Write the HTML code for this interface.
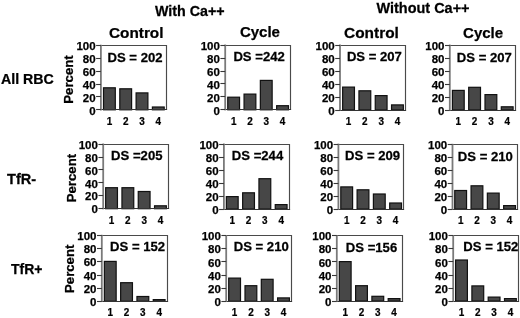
<!DOCTYPE html><html><head><meta charset="utf-8"><style>html,body{margin:0;padding:0;background:#fff;overflow:hidden}svg{display:block;filter:grayscale(1)}text{font-family:"Liberation Sans",sans-serif;font-weight:bold;fill:#000;stroke:#000;stroke-width:0.25px}</style></head><body>
<svg width="520" height="318" viewBox="0 0 520 318">
<text transform="translate(155,16.3) scale(1.02,1)" font-size="14">With Ca++</text>
<text transform="translate(376.5,12.9) scale(1.034,1)" font-size="14">Without Ca++</text>
<text transform="translate(109,38.0) scale(1.023,1)" font-size="15">Control</text>
<text x="239.9" y="37.2" font-size="15">Cycle</text>
<text transform="translate(344,38.3) scale(1.03,1)" font-size="15">Control</text>
<text x="463.1" y="37.6" font-size="15">Cycle</text>
<text transform="translate(1,83.5) scale(1.015,1)" font-size="14">All RBC</text>
<text transform="translate(7,184.1) scale(1.04,1)" font-size="14">TfR-</text>
<text x="11" y="273.7" font-size="14">TfR+</text>
<rect x="103.5" y="87.8" width="11.8" height="22" fill="#474747" stroke="#111" stroke-width="1.2"/>
<rect x="119.8" y="88.8" width="11.8" height="21" fill="#474747" stroke="#111" stroke-width="1.2"/>
<rect x="136.1" y="92.9" width="11.8" height="16.9" fill="#474747" stroke="#111" stroke-width="1.2"/>
<rect x="152.4" y="107" width="11.8" height="2.8" fill="#474747" stroke="#111" stroke-width="1.2"/>
<path d="M100.9 45.5H166.5V109.5" fill="none" stroke="#4a4a4a" stroke-width="1.15"/>
<path d="M100.9 109.5H167.1" fill="none" stroke="#333" stroke-width="1.15"/>
<path d="M100.9 44.7V110.4" stroke="#7a7a7a" stroke-width="1.8"/>
<path d="M96.1 109.5H100.9" stroke="#383838" stroke-width="1.1"/>
<text x="95.6" y="114.5" font-size="11.5" text-anchor="end">0</text>
<path d="M96.1 96.5H100.9" stroke="#383838" stroke-width="1.1"/>
<text x="95.6" y="101.58" font-size="11.5" text-anchor="end">20</text>
<path d="M96.1 84.5H100.9" stroke="#383838" stroke-width="1.1"/>
<text x="95.6" y="88.66" font-size="11.5" text-anchor="end">40</text>
<path d="M96.1 71.5H100.9" stroke="#383838" stroke-width="1.1"/>
<text x="95.6" y="75.74" font-size="11.5" text-anchor="end">60</text>
<path d="M96.1 58.5H100.9" stroke="#383838" stroke-width="1.1"/>
<text x="95.6" y="62.82" font-size="11.5" text-anchor="end">80</text>
<path d="M96.1 45.5H100.9" stroke="#383838" stroke-width="1.1"/>
<text x="95.6" y="49.9" font-size="11.5" text-anchor="end">100</text>
<text transform="translate(109.4,124.8) scale(0.88,1)" font-size="11.3" text-anchor="middle">1</text>
<text transform="translate(125.7,124.8) scale(0.88,1)" font-size="11.3" text-anchor="middle">2</text>
<text transform="translate(142,124.8) scale(0.88,1)" font-size="11.3" text-anchor="middle">3</text>
<text transform="translate(158.3,124.8) scale(0.88,1)" font-size="11.3" text-anchor="middle">4</text>
<text transform="translate(107.5,61.7) scale(1.05,1)" font-size="12.5">DS = 202</text>
<text x="0" y="0" font-size="13.2" text-anchor="middle" transform="translate(73.2,79.5) rotate(-90)">Percent</text>
<rect x="227.75" y="97.2" width="11.8" height="12.6" fill="#474747" stroke="#111" stroke-width="1.2"/>
<rect x="244.05" y="94.1" width="11.8" height="15.7" fill="#474747" stroke="#111" stroke-width="1.2"/>
<rect x="260.35" y="80.4" width="11.8" height="29.4" fill="#474747" stroke="#111" stroke-width="1.2"/>
<rect x="276.65" y="105.7" width="11.8" height="4.1" fill="#474747" stroke="#111" stroke-width="1.2"/>
<path d="M225.2 45.5H290.5V109.5" fill="none" stroke="#4a4a4a" stroke-width="1.15"/>
<path d="M225.2 109.5H291.1" fill="none" stroke="#333" stroke-width="1.15"/>
<path d="M225.2 44.5V110.4" stroke="#7a7a7a" stroke-width="1.8"/>
<path d="M220.4 109.5H225.2" stroke="#383838" stroke-width="1.1"/>
<text x="219.9" y="114.5" font-size="11.5" text-anchor="end">0</text>
<path d="M220.4 96.5H225.2" stroke="#383838" stroke-width="1.1"/>
<text x="219.9" y="101.54" font-size="11.5" text-anchor="end">20</text>
<path d="M220.4 83.5H225.2" stroke="#383838" stroke-width="1.1"/>
<text x="219.9" y="88.58" font-size="11.5" text-anchor="end">40</text>
<path d="M220.4 71.5H225.2" stroke="#383838" stroke-width="1.1"/>
<text x="219.9" y="75.62" font-size="11.5" text-anchor="end">60</text>
<path d="M220.4 58.5H225.2" stroke="#383838" stroke-width="1.1"/>
<text x="219.9" y="62.66" font-size="11.5" text-anchor="end">80</text>
<path d="M220.4 45.5H225.2" stroke="#383838" stroke-width="1.1"/>
<text x="219.9" y="49.7" font-size="11.5" text-anchor="end">100</text>
<text transform="translate(233.65,124.8) scale(0.88,1)" font-size="11.3" text-anchor="middle">1</text>
<text transform="translate(249.95,124.8) scale(0.88,1)" font-size="11.3" text-anchor="middle">2</text>
<text transform="translate(266.25,124.8) scale(0.88,1)" font-size="11.3" text-anchor="middle">3</text>
<text transform="translate(282.55,124.8) scale(0.88,1)" font-size="11.3" text-anchor="middle">4</text>
<text transform="translate(233.4,60.7) scale(1.05,1)" font-size="12.5">DS =242</text>
<rect x="342.65" y="87.1" width="11.8" height="22.9" fill="#474747" stroke="#111" stroke-width="1.2"/>
<rect x="358.95" y="90.8" width="11.8" height="19.2" fill="#474747" stroke="#111" stroke-width="1.2"/>
<rect x="375.25" y="95.6" width="11.8" height="14.4" fill="#474747" stroke="#111" stroke-width="1.2"/>
<rect x="391.55" y="104.9" width="11.8" height="5.1" fill="#474747" stroke="#111" stroke-width="1.2"/>
<path d="M340 45.5H405.5V110.5" fill="none" stroke="#4a4a4a" stroke-width="1.15"/>
<path d="M340 110.5H406.1" fill="none" stroke="#333" stroke-width="1.15"/>
<path d="M340 44.5V110.6" stroke="#7a7a7a" stroke-width="1.8"/>
<path d="M335.2 110.5H340" stroke="#383838" stroke-width="1.1"/>
<text x="334.7" y="114.7" font-size="11.5" text-anchor="end">0</text>
<path d="M335.2 97.5H340" stroke="#383838" stroke-width="1.1"/>
<text x="334.7" y="101.7" font-size="11.5" text-anchor="end">20</text>
<path d="M335.2 84.5H340" stroke="#383838" stroke-width="1.1"/>
<text x="334.7" y="88.7" font-size="11.5" text-anchor="end">40</text>
<path d="M335.2 71.5H340" stroke="#383838" stroke-width="1.1"/>
<text x="334.7" y="75.7" font-size="11.5" text-anchor="end">60</text>
<path d="M335.2 58.5H340" stroke="#383838" stroke-width="1.1"/>
<text x="334.7" y="62.7" font-size="11.5" text-anchor="end">80</text>
<path d="M335.2 45.5H340" stroke="#383838" stroke-width="1.1"/>
<text x="334.7" y="49.7" font-size="11.5" text-anchor="end">100</text>
<text transform="translate(348.55,125) scale(0.88,1)" font-size="11.3" text-anchor="middle">1</text>
<text transform="translate(364.85,125) scale(0.88,1)" font-size="11.3" text-anchor="middle">2</text>
<text transform="translate(381.15,125) scale(0.88,1)" font-size="11.3" text-anchor="middle">3</text>
<text transform="translate(397.45,125) scale(0.88,1)" font-size="11.3" text-anchor="middle">4</text>
<text transform="translate(346.9,60.7) scale(1.05,1)" font-size="12.5">DS = 207</text>
<rect x="452.4" y="90.4" width="11.8" height="19.6" fill="#474747" stroke="#111" stroke-width="1.2"/>
<rect x="468.7" y="87.3" width="11.8" height="22.7" fill="#474747" stroke="#111" stroke-width="1.2"/>
<rect x="485" y="94.6" width="11.8" height="15.4" fill="#474747" stroke="#111" stroke-width="1.2"/>
<rect x="501.3" y="106.8" width="11.8" height="3.2" fill="#474747" stroke="#111" stroke-width="1.2"/>
<path d="M449.8 45.5H515.5V110.5" fill="none" stroke="#4a4a4a" stroke-width="1.15"/>
<path d="M449.8 110.5H516.1" fill="none" stroke="#333" stroke-width="1.15"/>
<path d="M449.8 44.6V110.6" stroke="#7a7a7a" stroke-width="1.8"/>
<path d="M445 110.5H449.8" stroke="#383838" stroke-width="1.1"/>
<text x="444.5" y="114.7" font-size="11.5" text-anchor="end">0</text>
<path d="M445 97.5H449.8" stroke="#383838" stroke-width="1.1"/>
<text x="444.5" y="101.72" font-size="11.5" text-anchor="end">20</text>
<path d="M445 84.5H449.8" stroke="#383838" stroke-width="1.1"/>
<text x="444.5" y="88.74" font-size="11.5" text-anchor="end">40</text>
<path d="M445 71.5H449.8" stroke="#383838" stroke-width="1.1"/>
<text x="444.5" y="75.76" font-size="11.5" text-anchor="end">60</text>
<path d="M445 58.5H449.8" stroke="#383838" stroke-width="1.1"/>
<text x="444.5" y="62.78" font-size="11.5" text-anchor="end">80</text>
<path d="M445 45.5H449.8" stroke="#383838" stroke-width="1.1"/>
<text x="444.5" y="49.8" font-size="11.5" text-anchor="end">100</text>
<text transform="translate(458.3,125) scale(0.88,1)" font-size="11.3" text-anchor="middle">1</text>
<text transform="translate(474.6,125) scale(0.88,1)" font-size="11.3" text-anchor="middle">2</text>
<text transform="translate(490.9,125) scale(0.88,1)" font-size="11.3" text-anchor="middle">3</text>
<text transform="translate(507.2,125) scale(0.88,1)" font-size="11.3" text-anchor="middle">4</text>
<text transform="translate(456.8,61.9) scale(1.05,1)" font-size="12.5">DS = 207</text>
<rect x="105.65" y="187.7" width="11.8" height="21" fill="#474747" stroke="#111" stroke-width="1.2"/>
<rect x="121.95" y="187.7" width="11.8" height="21" fill="#474747" stroke="#111" stroke-width="1.2"/>
<rect x="138.25" y="191.5" width="11.8" height="17.2" fill="#474747" stroke="#111" stroke-width="1.2"/>
<rect x="154.55" y="205.8" width="11.8" height="2.9" fill="#474747" stroke="#111" stroke-width="1.2"/>
<path d="M103.2 144.5H168.5V208.5" fill="none" stroke="#4a4a4a" stroke-width="1.15"/>
<path d="M103.2 208.5H169.1" fill="none" stroke="#333" stroke-width="1.15"/>
<path d="M103.2 143.5V209.3" stroke="#7a7a7a" stroke-width="1.8"/>
<path d="M98.4 208.5H103.2" stroke="#383838" stroke-width="1.1"/>
<text x="97.9" y="213.4" font-size="11.5" text-anchor="end">0</text>
<path d="M98.4 195.5H103.2" stroke="#383838" stroke-width="1.1"/>
<text x="97.9" y="200.46" font-size="11.5" text-anchor="end">20</text>
<path d="M98.4 182.5H103.2" stroke="#383838" stroke-width="1.1"/>
<text x="97.9" y="187.52" font-size="11.5" text-anchor="end">40</text>
<path d="M98.4 169.5H103.2" stroke="#383838" stroke-width="1.1"/>
<text x="97.9" y="174.58" font-size="11.5" text-anchor="end">60</text>
<path d="M98.4 157.5H103.2" stroke="#383838" stroke-width="1.1"/>
<text x="97.9" y="161.64" font-size="11.5" text-anchor="end">80</text>
<path d="M98.4 144.5H103.2" stroke="#383838" stroke-width="1.1"/>
<text x="97.9" y="148.7" font-size="11.5" text-anchor="end">100</text>
<text transform="translate(111.55,223.7) scale(0.88,1)" font-size="11.3" text-anchor="middle">1</text>
<text transform="translate(127.85,223.7) scale(0.88,1)" font-size="11.3" text-anchor="middle">2</text>
<text transform="translate(144.15,223.7) scale(0.88,1)" font-size="11.3" text-anchor="middle">3</text>
<text transform="translate(160.45,223.7) scale(0.88,1)" font-size="11.3" text-anchor="middle">4</text>
<text transform="translate(111.1,159.9) scale(1.05,1)" font-size="12.5">DS =205</text>
<text x="0" y="0" font-size="13.2" text-anchor="middle" transform="translate(75.8,178.1) rotate(-90)">Percent</text>
<rect x="226.35" y="196.6" width="11.8" height="12.5" fill="#474747" stroke="#111" stroke-width="1.2"/>
<rect x="242.65" y="192.8" width="11.8" height="16.3" fill="#474747" stroke="#111" stroke-width="1.2"/>
<rect x="258.95" y="178.7" width="11.8" height="30.4" fill="#474747" stroke="#111" stroke-width="1.2"/>
<rect x="275.25" y="204.6" width="11.8" height="4.5" fill="#474747" stroke="#111" stroke-width="1.2"/>
<path d="M223.9 144.5H289.5V209.5" fill="none" stroke="#4a4a4a" stroke-width="1.15"/>
<path d="M223.9 209.5H290.1" fill="none" stroke="#333" stroke-width="1.15"/>
<path d="M223.9 143.6V209.7" stroke="#7a7a7a" stroke-width="1.8"/>
<path d="M219.1 209.5H223.9" stroke="#383838" stroke-width="1.1"/>
<text x="218.6" y="213.8" font-size="11.5" text-anchor="end">0</text>
<path d="M219.1 196.5H223.9" stroke="#383838" stroke-width="1.1"/>
<text x="218.6" y="200.8" font-size="11.5" text-anchor="end">20</text>
<path d="M219.1 183.5H223.9" stroke="#383838" stroke-width="1.1"/>
<text x="218.6" y="187.8" font-size="11.5" text-anchor="end">40</text>
<path d="M219.1 170.5H223.9" stroke="#383838" stroke-width="1.1"/>
<text x="218.6" y="174.8" font-size="11.5" text-anchor="end">60</text>
<path d="M219.1 157.5H223.9" stroke="#383838" stroke-width="1.1"/>
<text x="218.6" y="161.8" font-size="11.5" text-anchor="end">80</text>
<path d="M219.1 144.5H223.9" stroke="#383838" stroke-width="1.1"/>
<text x="218.6" y="148.8" font-size="11.5" text-anchor="end">100</text>
<text transform="translate(232.25,224.1) scale(0.88,1)" font-size="11.3" text-anchor="middle">1</text>
<text transform="translate(248.55,224.1) scale(0.88,1)" font-size="11.3" text-anchor="middle">2</text>
<text transform="translate(264.85,224.1) scale(0.88,1)" font-size="11.3" text-anchor="middle">3</text>
<text transform="translate(281.15,224.1) scale(0.88,1)" font-size="11.3" text-anchor="middle">4</text>
<text transform="translate(231.8,159.7) scale(1.05,1)" font-size="12.5">DS =244</text>
<rect x="340.8" y="186.9" width="11.8" height="22.2" fill="#474747" stroke="#111" stroke-width="1.2"/>
<rect x="357.1" y="189.8" width="11.8" height="19.3" fill="#474747" stroke="#111" stroke-width="1.2"/>
<rect x="373.4" y="194" width="11.8" height="15.1" fill="#474747" stroke="#111" stroke-width="1.2"/>
<rect x="389.7" y="203" width="11.8" height="6.1" fill="#474747" stroke="#111" stroke-width="1.2"/>
<path d="M338.4 144.5H403.5V209.5" fill="none" stroke="#4a4a4a" stroke-width="1.15"/>
<path d="M338.4 209.5H404.1" fill="none" stroke="#333" stroke-width="1.15"/>
<path d="M338.4 143.6V209.7" stroke="#7a7a7a" stroke-width="1.8"/>
<path d="M333.6 209.5H338.4" stroke="#383838" stroke-width="1.1"/>
<text x="333.1" y="213.8" font-size="11.5" text-anchor="end">0</text>
<path d="M333.6 196.5H338.4" stroke="#383838" stroke-width="1.1"/>
<text x="333.1" y="200.8" font-size="11.5" text-anchor="end">20</text>
<path d="M333.6 183.5H338.4" stroke="#383838" stroke-width="1.1"/>
<text x="333.1" y="187.8" font-size="11.5" text-anchor="end">40</text>
<path d="M333.6 170.5H338.4" stroke="#383838" stroke-width="1.1"/>
<text x="333.1" y="174.8" font-size="11.5" text-anchor="end">60</text>
<path d="M333.6 157.5H338.4" stroke="#383838" stroke-width="1.1"/>
<text x="333.1" y="161.8" font-size="11.5" text-anchor="end">80</text>
<path d="M333.6 144.5H338.4" stroke="#383838" stroke-width="1.1"/>
<text x="333.1" y="148.8" font-size="11.5" text-anchor="end">100</text>
<text transform="translate(346.7,224.1) scale(0.88,1)" font-size="11.3" text-anchor="middle">1</text>
<text transform="translate(363,224.1) scale(0.88,1)" font-size="11.3" text-anchor="middle">2</text>
<text transform="translate(379.3,224.1) scale(0.88,1)" font-size="11.3" text-anchor="middle">3</text>
<text transform="translate(395.6,224.1) scale(0.88,1)" font-size="11.3" text-anchor="middle">4</text>
<text transform="translate(345.1,159.9) scale(1.05,1)" font-size="12.5">DS = 209</text>
<rect x="454.75" y="190.5" width="11.8" height="18.6" fill="#474747" stroke="#111" stroke-width="1.2"/>
<rect x="471.05" y="185.8" width="11.8" height="23.3" fill="#474747" stroke="#111" stroke-width="1.2"/>
<rect x="487.35" y="193.1" width="11.8" height="16" fill="#474747" stroke="#111" stroke-width="1.2"/>
<rect x="503.65" y="205.6" width="11.8" height="3.5" fill="#474747" stroke="#111" stroke-width="1.2"/>
<path d="M452.5 144.5H517.5V209.5" fill="none" stroke="#4a4a4a" stroke-width="1.15"/>
<path d="M452.5 209.5H518.1" fill="none" stroke="#333" stroke-width="1.15"/>
<path d="M452.5 143.8V209.7" stroke="#7a7a7a" stroke-width="1.8"/>
<path d="M447.7 209.5H452.5" stroke="#383838" stroke-width="1.1"/>
<text x="447.2" y="213.8" font-size="11.5" text-anchor="end">0</text>
<path d="M447.7 196.5H452.5" stroke="#383838" stroke-width="1.1"/>
<text x="447.2" y="200.84" font-size="11.5" text-anchor="end">20</text>
<path d="M447.7 183.5H452.5" stroke="#383838" stroke-width="1.1"/>
<text x="447.2" y="187.88" font-size="11.5" text-anchor="end">40</text>
<path d="M447.7 170.5H452.5" stroke="#383838" stroke-width="1.1"/>
<text x="447.2" y="174.92" font-size="11.5" text-anchor="end">60</text>
<path d="M447.7 157.5H452.5" stroke="#383838" stroke-width="1.1"/>
<text x="447.2" y="161.96" font-size="11.5" text-anchor="end">80</text>
<path d="M447.7 144.5H452.5" stroke="#383838" stroke-width="1.1"/>
<text x="447.2" y="149" font-size="11.5" text-anchor="end">100</text>
<text transform="translate(460.65,224.1) scale(0.88,1)" font-size="11.3" text-anchor="middle">1</text>
<text transform="translate(476.95,224.1) scale(0.88,1)" font-size="11.3" text-anchor="middle">2</text>
<text transform="translate(493.25,224.1) scale(0.88,1)" font-size="11.3" text-anchor="middle">3</text>
<text transform="translate(509.55,224.1) scale(0.88,1)" font-size="11.3" text-anchor="middle">4</text>
<text transform="translate(457.8,161) scale(1.05,1)" font-size="12.5">DS = 210</text>
<rect x="104.35" y="261.4" width="11.8" height="39.9" fill="#474747" stroke="#111" stroke-width="1.2"/>
<rect x="120.65" y="282.7" width="11.8" height="18.6" fill="#474747" stroke="#111" stroke-width="1.2"/>
<rect x="136.95" y="296.5" width="11.8" height="4.8" fill="#474747" stroke="#111" stroke-width="1.2"/>
<rect x="153.25" y="299.6" width="11.8" height="1.7" fill="#474747" stroke="#111" stroke-width="1.2"/>
<path d="M101.8 235.5H167.5V301.5" fill="none" stroke="#4a4a4a" stroke-width="1.15"/>
<path d="M101.8 301.5H168.1" fill="none" stroke="#333" stroke-width="1.15"/>
<path d="M101.8 234.8V301.9" stroke="#7a7a7a" stroke-width="1.8"/>
<path d="M97 301.5H101.8" stroke="#383838" stroke-width="1.1"/>
<text x="96.5" y="306" font-size="11.5" text-anchor="end">0</text>
<path d="M97 288.5H101.8" stroke="#383838" stroke-width="1.1"/>
<text x="96.5" y="292.8" font-size="11.5" text-anchor="end">20</text>
<path d="M97 275.5H101.8" stroke="#383838" stroke-width="1.1"/>
<text x="96.5" y="279.6" font-size="11.5" text-anchor="end">40</text>
<path d="M97 261.5H101.8" stroke="#383838" stroke-width="1.1"/>
<text x="96.5" y="266.4" font-size="11.5" text-anchor="end">60</text>
<path d="M97 248.5H101.8" stroke="#383838" stroke-width="1.1"/>
<text x="96.5" y="253.2" font-size="11.5" text-anchor="end">80</text>
<path d="M97 235.5H101.8" stroke="#383838" stroke-width="1.1"/>
<text x="96.5" y="240" font-size="11.5" text-anchor="end">100</text>
<text transform="translate(110.25,316.3) scale(0.88,1)" font-size="11.3" text-anchor="middle">1</text>
<text transform="translate(126.55,316.3) scale(0.88,1)" font-size="11.3" text-anchor="middle">2</text>
<text transform="translate(142.85,316.3) scale(0.88,1)" font-size="11.3" text-anchor="middle">3</text>
<text transform="translate(159.15,316.3) scale(0.88,1)" font-size="11.3" text-anchor="middle">4</text>
<text transform="translate(110.1,250.8) scale(1.05,1)" font-size="12.5">DS = 152</text>
<text x="0" y="0" font-size="13.2" text-anchor="middle" transform="translate(74,268.8) rotate(-90)">Percent</text>
<rect x="228.7" y="278.1" width="11.8" height="23.2" fill="#474747" stroke="#111" stroke-width="1.2"/>
<rect x="245" y="285.7" width="11.8" height="15.6" fill="#474747" stroke="#111" stroke-width="1.2"/>
<rect x="261.3" y="279.3" width="11.8" height="22" fill="#474747" stroke="#111" stroke-width="1.2"/>
<rect x="277.6" y="297.9" width="11.8" height="3.4" fill="#474747" stroke="#111" stroke-width="1.2"/>
<path d="M226.2 235.5H291.5V301.5" fill="none" stroke="#4a4a4a" stroke-width="1.15"/>
<path d="M226.2 301.5H292.1" fill="none" stroke="#333" stroke-width="1.15"/>
<path d="M226.2 235V301.9" stroke="#7a7a7a" stroke-width="1.8"/>
<path d="M221.4 301.5H226.2" stroke="#383838" stroke-width="1.1"/>
<text x="220.9" y="306" font-size="11.5" text-anchor="end">0</text>
<path d="M221.4 288.5H226.2" stroke="#383838" stroke-width="1.1"/>
<text x="220.9" y="292.84" font-size="11.5" text-anchor="end">20</text>
<path d="M221.4 275.5H226.2" stroke="#383838" stroke-width="1.1"/>
<text x="220.9" y="279.68" font-size="11.5" text-anchor="end">40</text>
<path d="M221.4 261.5H226.2" stroke="#383838" stroke-width="1.1"/>
<text x="220.9" y="266.52" font-size="11.5" text-anchor="end">60</text>
<path d="M221.4 248.5H226.2" stroke="#383838" stroke-width="1.1"/>
<text x="220.9" y="253.36" font-size="11.5" text-anchor="end">80</text>
<path d="M221.4 235.5H226.2" stroke="#383838" stroke-width="1.1"/>
<text x="220.9" y="240.2" font-size="11.5" text-anchor="end">100</text>
<text transform="translate(234.6,316.3) scale(0.88,1)" font-size="11.3" text-anchor="middle">1</text>
<text transform="translate(250.9,316.3) scale(0.88,1)" font-size="11.3" text-anchor="middle">2</text>
<text transform="translate(267.2,316.3) scale(0.88,1)" font-size="11.3" text-anchor="middle">3</text>
<text transform="translate(283.5,316.3) scale(0.88,1)" font-size="11.3" text-anchor="middle">4</text>
<text transform="translate(233.7,250.9) scale(1.05,1)" font-size="12.5">DS = 210</text>
<rect x="339.3" y="261.6" width="11.8" height="39.5" fill="#474747" stroke="#111" stroke-width="1.2"/>
<rect x="355.6" y="285.7" width="11.8" height="15.4" fill="#474747" stroke="#111" stroke-width="1.2"/>
<rect x="371.9" y="296.3" width="11.8" height="4.8" fill="#474747" stroke="#111" stroke-width="1.2"/>
<rect x="388.2" y="298.6" width="11.8" height="2.5" fill="#474747" stroke="#111" stroke-width="1.2"/>
<path d="M336.8 235.5H402.5V301.5" fill="none" stroke="#4a4a4a" stroke-width="1.15"/>
<path d="M336.8 301.5H403.1" fill="none" stroke="#333" stroke-width="1.15"/>
<path d="M336.8 235.2V301.7" stroke="#7a7a7a" stroke-width="1.8"/>
<path d="M332 301.5H336.8" stroke="#383838" stroke-width="1.1"/>
<text x="331.5" y="305.8" font-size="11.5" text-anchor="end">0</text>
<path d="M332 288.5H336.8" stroke="#383838" stroke-width="1.1"/>
<text x="331.5" y="292.72" font-size="11.5" text-anchor="end">20</text>
<path d="M332 275.5H336.8" stroke="#383838" stroke-width="1.1"/>
<text x="331.5" y="279.64" font-size="11.5" text-anchor="end">40</text>
<path d="M332 261.5H336.8" stroke="#383838" stroke-width="1.1"/>
<text x="331.5" y="266.56" font-size="11.5" text-anchor="end">60</text>
<path d="M332 248.5H336.8" stroke="#383838" stroke-width="1.1"/>
<text x="331.5" y="253.48" font-size="11.5" text-anchor="end">80</text>
<path d="M332 235.5H336.8" stroke="#383838" stroke-width="1.1"/>
<text x="331.5" y="240.4" font-size="11.5" text-anchor="end">100</text>
<text transform="translate(345.2,316.1) scale(0.88,1)" font-size="11.3" text-anchor="middle">1</text>
<text transform="translate(361.5,316.1) scale(0.88,1)" font-size="11.3" text-anchor="middle">2</text>
<text transform="translate(377.8,316.1) scale(0.88,1)" font-size="11.3" text-anchor="middle">3</text>
<text transform="translate(394.1,316.1) scale(0.88,1)" font-size="11.3" text-anchor="middle">4</text>
<text transform="translate(345.8,251.8) scale(1.05,1)" font-size="12.5">DS =156</text>
<rect x="455.6" y="260" width="11.8" height="41.1" fill="#474747" stroke="#111" stroke-width="1.2"/>
<rect x="471.9" y="285.9" width="11.8" height="15.2" fill="#474747" stroke="#111" stroke-width="1.2"/>
<rect x="488.2" y="297.1" width="11.8" height="4" fill="#474747" stroke="#111" stroke-width="1.2"/>
<rect x="504.5" y="298.6" width="11.8" height="2.5" fill="#474747" stroke="#111" stroke-width="1.2"/>
<path d="M453.2 235.5H518.5V301.5" fill="none" stroke="#4a4a4a" stroke-width="1.15"/>
<path d="M453.2 301.5H519.1" fill="none" stroke="#333" stroke-width="1.15"/>
<path d="M453.2 235.2V301.7" stroke="#7a7a7a" stroke-width="1.8"/>
<path d="M448.4 301.5H453.2" stroke="#383838" stroke-width="1.1"/>
<text x="447.9" y="305.8" font-size="11.5" text-anchor="end">0</text>
<path d="M448.4 288.5H453.2" stroke="#383838" stroke-width="1.1"/>
<text x="447.9" y="292.72" font-size="11.5" text-anchor="end">20</text>
<path d="M448.4 275.5H453.2" stroke="#383838" stroke-width="1.1"/>
<text x="447.9" y="279.64" font-size="11.5" text-anchor="end">40</text>
<path d="M448.4 261.5H453.2" stroke="#383838" stroke-width="1.1"/>
<text x="447.9" y="266.56" font-size="11.5" text-anchor="end">60</text>
<path d="M448.4 248.5H453.2" stroke="#383838" stroke-width="1.1"/>
<text x="447.9" y="253.48" font-size="11.5" text-anchor="end">80</text>
<path d="M448.4 235.5H453.2" stroke="#383838" stroke-width="1.1"/>
<text x="447.9" y="240.4" font-size="11.5" text-anchor="end">100</text>
<text transform="translate(461.5,316.1) scale(0.88,1)" font-size="11.3" text-anchor="middle">1</text>
<text transform="translate(477.8,316.1) scale(0.88,1)" font-size="11.3" text-anchor="middle">2</text>
<text transform="translate(494.1,316.1) scale(0.88,1)" font-size="11.3" text-anchor="middle">3</text>
<text transform="translate(510.4,316.1) scale(0.88,1)" font-size="11.3" text-anchor="middle">4</text>
<text transform="translate(463.3,251.1) scale(1.05,1)" font-size="12.5">DS = 152</text>
</svg></body></html>
